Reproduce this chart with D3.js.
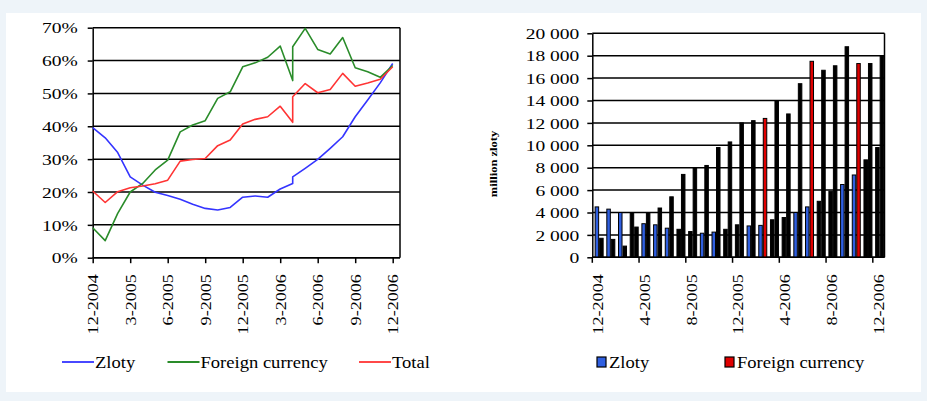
<!DOCTYPE html>
<html>
<head>
<meta charset="utf-8">
<script src="https://cdn.jsdelivr.net/npm/d3@7"></script>
<style>
  html, body { margin: 0; padding: 0; background: #eef4f9; }
  svg { display: block; }
  text { font-family: "Liberation Serif", "Times New Roman", serif; fill: #000; }
</style>
</head>
<body>
<svg id="chart" width="927" height="401"></svg>
<script>
// ---- data -------------------------------------------------------------
const months = ['12-2004','1-2005','2-2005','3-2005','4-2005','5-2005','6-2005','7-2005','8-2005',
  '9-2005','10-2005','11-2005','12-2005','1-2006','2-2006','3-2006','4-2006','5-2006','6-2006',
  '7-2006','8-2006','9-2006','10-2006','11-2006','12-2006'];

// share series carry two readings for 4-2006 (series break)
const lineMonths = ['12-2004','1-2005','2-2005','3-2005','4-2005','5-2005','6-2005','7-2005','8-2005',
  '9-2005','10-2005','11-2005','12-2005','1-2006','2-2006','3-2006','4-2006','4-2006','5-2006','6-2006',
  '7-2006','8-2006','9-2006','10-2006','11-2006','12-2006'];

const zlotyShare   = [39.6, 36.5, 32.0, 24.6, 22.1, 19.9, 18.9, 17.8, 16.3, 15.0, 14.5, 15.3, 18.4,
  18.8, 18.4, 20.9, 22.6, 24.6, 27.2, 29.9, 33.3, 36.8, 42.9, 48.0, 53.2, 59.1];
const foreignShare = [9.1, 5.2, 13.5, 20.0, 22.6, 26.7, 29.7, 38.3, 40.4, 41.7, 48.5, 50.5, 58.1,
  59.3, 61.0, 64.4, 53.9, 64.2, 69.8, 63.4, 62.0, 67.0, 57.8, 56.6, 54.9, 58.5];
const totalShare   = [20.3, 16.8, 20.1, 21.3, 21.8, 22.5, 23.6, 29.4, 29.9, 30.2, 34.1, 35.8, 40.7,
  42.1, 42.9, 46.1, 41.2, 49.0, 53.0, 50.2, 51.2, 56.1, 52.2, 53.2, 54.3, 58.1];

const zlotyAmount   = [4500, 4300, 4000, 4000, 3000, 2900, 2600, 2500, 2300, 2150, 2250, 2500, 2900,
  2800, 2850, 3350, 3550, 4000, 4500, 5000, 5900, 6500, 7350, 8700, 9800];
const foreignAmount = [1700, 1600, 1000, 2700, 4000, 4400, 5400, 7400, 8000, 8200, 9800, 10300, 12000,
  12200, 12400, 14000, 12800, 15500, 17500, 16700, 17100, 18800, 17300, 17300, 18000];

const shareTicks  = [0, 10, 20, 30, 40, 50, 60, 70];
const amountTicks = [0, 2000, 4000, 6000, 8000, 10000, 12000, 14000, 16000, 18000, 20000];
const leftTicks   = ['12-2004','3-2005','6-2005','9-2005','12-2005','3-2006','6-2006','9-2006','12-2006'];
const rightTicks  = ['12-2004','4-2005','8-2005','12-2005','4-2006','8-2006','12-2006'];

// ---- styling ------------------------------------------------------------
// months whose bars keep a visible fill colour; the others print solid black
const zlotyTinted   = ['12-2004','1-2005','2-2005','4-2005','5-2005','6-2005','9-2005','10-2005',
  '1-2006','2-2006','5-2006','6-2006','9-2006','10-2006'];
const foreignTinted = ['2-2006','6-2006','10-2006'];

const C = { zloty: '#3434ff', foreign: '#2a8c2a', total: '#ff3434',
            barZloty: '#2f5fe0', barForeign: '#e00000' };

const svg = d3.select('#chart');

// helper: widen/narrow text to the printed proportions
function fit(sel, k) {
  sel.each(function () {
    const w = this.getComputedTextLength();
    this.setAttribute('textLength', (w * k).toFixed(1));
    this.setAttribute('lengthAdjust', 'spacingAndGlyphs');
  });
}

// page panel
svg.append('rect').attr('x', 6).attr('y', 13).attr('width', 915).attr('height', 379).attr('fill', '#fff');

// ================= left: shares (line chart) =================
const L = { left: 92.7, right: 400, top: 27.7, bottom: 257.7, lineEnd: 392.7 };
const xL = d3.scalePoint().domain(months).range([L.left, L.lineEnd]);
const yL = d3.scaleLinear().domain([0, 70]).range([L.bottom, L.top]);

const gL = svg.append('g');
gL.append('g').selectAll('line').data(shareTicks).join('line')
  .attr('x1', L.left).attr('x2', L.right)
  .attr('y1', d => yL(d)).attr('y2', d => yL(d))
  .attr('stroke', '#000').attr('stroke-width', 1.5);
gL.append('line').attr('x1', L.right).attr('x2', L.right).attr('y1', L.top).attr('y2', L.bottom)
  .attr('stroke', '#000').attr('stroke-width', 1.5);

const yAxisL = gL.append('g').attr('transform', `translate(${L.left},0)`)
  .call(d3.axisLeft(yL).tickValues(shareTicks).tickFormat(d => d + '%').tickSize(5).tickPadding(10).tickSizeOuter(0));
const xAxisL = gL.append('g').attr('transform', `translate(0,${L.bottom})`)
  .call(d3.axisBottom(xL).tickValues(leftTicks).tickSize(5.5).tickSizeOuter(0));
[yAxisL, xAxisL].forEach(a => {
  a.select('.domain').attr('stroke', '#000').attr('stroke-width', 1.5);
  a.selectAll('.tick line').attr('stroke', '#000').attr('stroke-width', 1.5);
});
xAxisL.select('.domain').attr('d', `M${L.left},0H${L.right}`);
yAxisL.selectAll('text').attr('font-size', 15).attr('dy', '0.35em').call(fit, 1.3);
xAxisL.selectAll('text')
  .attr('transform', 'rotate(-90)').attr('text-anchor', 'end')
  .attr('x', -16.5).attr('y', 0).attr('dy', '0.35em').attr('font-size', 14).call(fit, 1.29);

const line = d3.line().x((d, i) => xL(lineMonths[i])).y(d => yL(d));
[[zlotyShare, C.zloty], [foreignShare, C.foreign], [totalShare, C.total]].forEach(([s, c]) => {
  gL.append('path').datum(s).attr('d', line).attr('fill', 'none')
    .attr('stroke', c).attr('stroke-width', 1.6).attr('stroke-linejoin', 'round');
});

// legend
const legL = [{ t: 'Zloty', c: C.zloty, x: 62 }, { t: 'Foreign currency', c: C.foreign, x: 167.5 }, { t: 'Total', c: C.total, x: 359 }];
const lgL = svg.append('g').selectAll('g').data(legL).join('g')
  .attr('transform', d => `translate(${d.x},362)`);
lgL.append('line').attr('x1', 0).attr('x2', 32).attr('stroke', d => d.c).attr('stroke-width', 1.8);
lgL.append('text').attr('x', 33).attr('dy', '0.35em').attr('font-size', 16).text(d => d.t).call(fit, 1.16);

// ================= right: amounts (bar chart) =================
const R = { left: 592.3, right: 884.5, top: 33.3, bottom: 257.3 };
const xR = d3.scaleBand().domain(months).range([R.left, R.right]);
const bw = xR.bandwidth();
const xS = d3.scaleBand().domain(['zloty', 'foreign']).range([bw * 0.2, bw * 0.97]).padding(0);
const yR = d3.scaleLinear().domain([0, 20000]).range([R.bottom, R.top]);
const fmt = d3.formatLocale({ decimal: '.', thousands: '\u00a0', grouping: [3], currency: ['', ''] }).format(',');

const gR = svg.append('g');
gR.append('g').selectAll('line').data(amountTicks).join('line')
  .attr('x1', R.left).attr('x2', R.right)
  .attr('y1', d => yR(d)).attr('y2', d => yR(d))
  .attr('stroke', '#000').attr('stroke-width', 1.5);
gR.append('line').attr('x1', R.right).attr('x2', R.right).attr('y1', R.top).attr('y2', R.bottom)
  .attr('stroke', '#000').attr('stroke-width', 1.5);

const bars = months.flatMap((m, i) => [
  { m, key: 'zloty', v: zlotyAmount[i], tint: zlotyTinted.includes(m) ? C.barZloty : null },
  { m, key: 'foreign', v: foreignAmount[i], tint: foreignTinted.includes(m) ? C.barForeign : null }
]);
gR.append('g').selectAll('rect').data(bars).join('rect')
  .attr('x', d => xR(d.m) + xS(d.key) + 0.5)
  .attr('width', xS.bandwidth() - 1)
  .attr('y', d => yR(d.v))
  .attr('height', d => R.bottom - yR(d.v))
  .attr('fill', d => d.tint || '#000')
  .attr('stroke', '#000').attr('stroke-width', 1);

const yAxisR = gR.append('g').attr('transform', `translate(${R.left},0)`)
  .call(d3.axisLeft(yR).tickValues(amountTicks).tickFormat(fmt).tickSize(5).tickPadding(8).tickSizeOuter(0));
const xAxisR = gR.append('g').attr('transform', `translate(0,${R.bottom})`)
  .call(d3.axisBottom(xR).tickValues(rightTicks).tickSize(5.5).tickSizeOuter(0));
[yAxisR, xAxisR].forEach(a => {
  a.select('.domain').attr('stroke', '#000').attr('stroke-width', 1.5);
  a.selectAll('.tick line').attr('stroke', '#000').attr('stroke-width', 1.5);
});
xAxisR.select('.domain').attr('d', `M${R.left},0H${R.right}`);
xAxisR.selectAll('.tick line').attr('x1', -bw / 2).attr('x2', -bw / 2);
yAxisR.selectAll('text').attr('font-size', 15).attr('dy', '0.35em').call(fit, 1.3);
xAxisR.selectAll('text')
  .attr('transform', 'rotate(-90)').attr('text-anchor', 'end')
  .attr('x', -17).attr('y', 0).attr('dy', '0.35em').attr('font-size', 14).call(fit, 1.29);

svg.append('text')
  .attr('transform', 'translate(497,164) rotate(-90)')
  .attr('text-anchor', 'middle').attr('font-size', 10).attr('font-weight', 'bold')
  .text('million zloty').call(fit, 1.25);

// legend
const legR = [{ t: 'Zloty', c: C.barZloty, x: 597 }, { t: 'Foreign currency', c: C.barForeign, x: 725 }];
const lgR = svg.append('g').selectAll('g').data(legR).join('g')
  .attr('transform', d => `translate(${d.x},362)`);
lgR.append('rect').attr('x', 0).attr('y', -5).attr('width', 9).attr('height', 10)
  .attr('fill', d => d.c).attr('stroke', '#000').attr('stroke-width', 1.2);
lgR.append('text').attr('x', 12).attr('dy', '0.35em').attr('font-size', 16).text(d => d.t).call(fit, 1.16);
</script>
</body>
</html>
